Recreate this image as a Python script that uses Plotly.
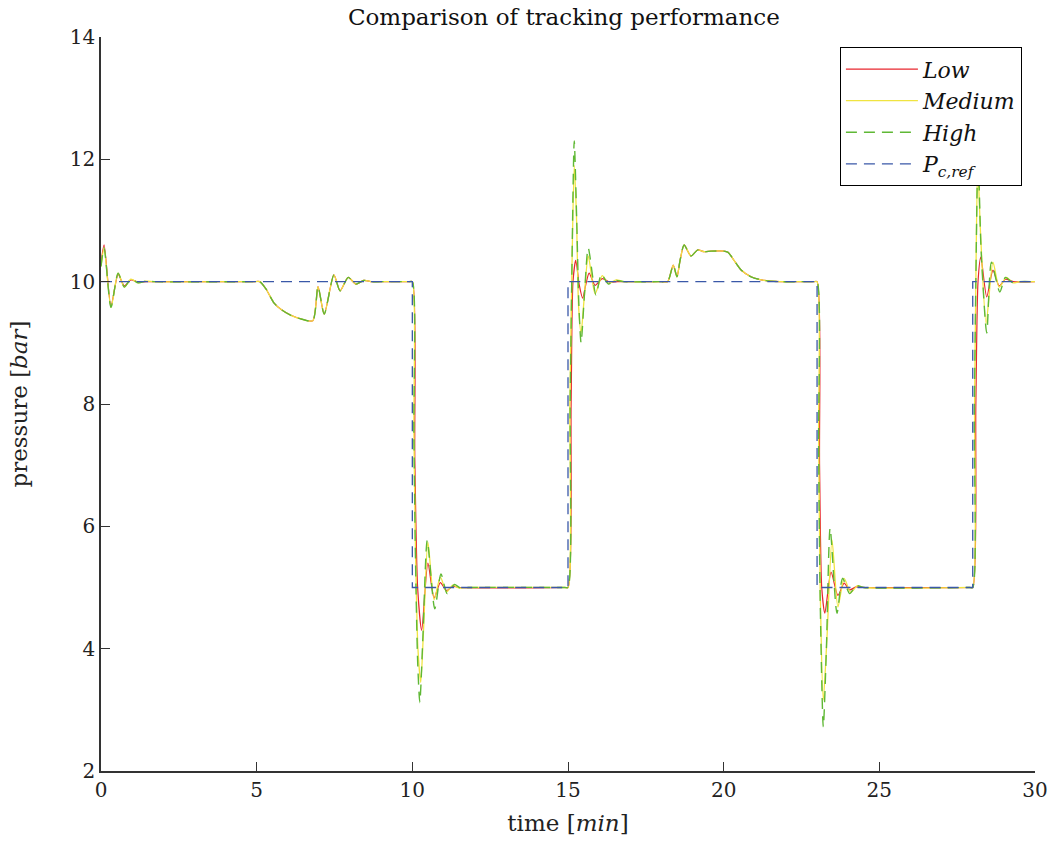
import plotly.graph_objects as go

# ---------------- data ----------------
# reference pressure set-point
ref_t = [0, 10, 10, 15, 15, 23, 23, 28, 28, 30]
ref_p = [10, 10, 5, 5, 10, 10, 5, 5, 10, 10]

# start-up transient
start_t = [0, 0.1, 0.32, 0.55, 0.75, 0.96, 1.2, 1.45, 1.7]
start_low = [10.3, 10.6, 9.6, 10.12, 9.93, 10.03, 9.99, 10.0, 10.0]
start_med = [10.25, 10.55, 9.58, 10.14, 9.91, 10.04, 9.98, 10.01, 10.0]
start_high = [10.25, 10.55, 9.58, 10.14, 9.91, 10.04, 9.98, 10.01, 10.0]

# first disturbance (identical for all controllers)
dist1_t = [4.9, 5.1, 5.3, 5.56, 5.8, 6.1, 6.43, 6.8, 6.97, 7.17, 7.48, 7.68, 7.94, 8.19, 8.44, 8.7, 9.0, 9.9]
dist1_p = [10.0, 10.0, 9.88, 9.65, 9.54, 9.45, 9.39, 9.36, 9.92, 9.47, 10.11, 9.85, 10.07, 9.96, 10.02, 10.0, 10.0, 10.0]

# step down at t = 10
drop1_low_t = [10.0, 10.08, 10.17, 10.3, 10.5, 10.7, 10.9, 11.1, 11.3, 11.5, 14.9]
drop1_low_p = [10.0, 7.1, 5.0, 4.3, 5.4, 4.83, 5.08, 4.95, 5.02, 5.0, 5.0]
drop1_med_t = [10.0, 10.05, 10.1, 10.18, 10.27, 10.36, 10.5, 10.7, 10.9, 11.1, 11.3, 11.5, 11.8, 14.9]
drop1_med_p = [10.0, 7.6, 5.66, 4.0, 3.45, 4.3, 5.74, 4.8, 5.17, 4.93, 5.04, 4.99, 5.0, 5.0]
drop1_high_t = [10.0, 10.05, 10.1, 10.17, 10.24, 10.34, 10.48, 10.72, 10.92, 11.12, 11.35, 11.55, 11.8, 14.9]
drop1_high_p = [10.0, 7.5, 5.5, 3.8, 3.12, 4.2, 5.77, 4.65, 5.22, 4.9, 5.05, 4.99, 5.0, 5.0]

# step up at t = 15
rise1_low_t = [15.0, 15.1, 15.16, 15.25, 15.36, 15.47, 15.57, 15.68, 15.87, 16.1, 16.35, 16.6, 17.9]
rise1_low_p = [5.0, 8.0, 10.0, 10.35, 9.95, 9.73, 9.95, 10.14, 9.94, 10.05, 9.99, 10.0, 10.0]
rise1_med_t = [15.0, 15.06, 15.12, 15.2, 15.27, 15.34, 15.42, 15.53, 15.65, 15.87, 16.1, 16.3, 16.55, 16.8, 17.9]
rise1_med_p = [5.0, 8.0, 10.0, 11.9, 11.1, 9.6, 9.16, 9.8, 10.42, 9.8, 10.1, 9.97, 10.03, 10.0, 10.0]
rise1_high_t = [15.0, 15.07, 15.12, 15.2, 15.28, 15.35, 15.42, 15.53, 15.65, 15.9, 16.07, 16.3, 16.5, 16.8, 17.9]
rise1_high_p = [5.0, 8.0, 10.0, 12.3, 11.0, 9.6, 9.0, 9.8, 10.55, 9.78, 10.12, 9.96, 10.02, 10.0, 10.0]

# second disturbance (identical for all controllers)
dist2_t = [18.0, 18.2, 18.38, 18.5, 18.6, 18.73, 18.95, 19.17, 19.37, 19.6, 20.0, 20.14, 20.33, 20.56, 20.88, 21.3, 21.8, 22.5, 22.9]
dist2_p = [10.0, 10.0, 10.27, 10.08, 10.35, 10.6, 10.42, 10.52, 10.49, 10.5, 10.5, 10.48, 10.35, 10.19, 10.08, 10.02, 10.0, 10.0, 10.0]

# step down at t = 23
drop2_low_t = [23.0, 23.08, 23.15, 23.25, 23.45, 23.67, 23.87, 24.05, 24.25, 24.5, 27.9]
drop2_low_p = [10.0, 7.0, 5.0, 4.58, 5.25, 4.87, 5.07, 4.96, 5.01, 5.0, 5.0]
drop2_med_t = [23.0, 23.05, 23.1, 23.2, 23.32, 23.48, 23.67, 23.87, 24.08, 24.3, 24.5, 27.9]
drop2_med_p = [10.0, 7.5, 5.0, 3.16, 4.2, 5.78, 4.68, 5.15, 4.92, 5.03, 5.0, 5.0]
drop2_high_t = [23.0, 23.05, 23.1, 23.2, 23.3, 23.42, 23.64, 23.82, 24.05, 24.25, 24.5, 27.9]
drop2_high_p = [10.0, 7.3, 4.8, 2.72, 4.0, 5.97, 4.58, 5.15, 4.9, 5.03, 5.0, 5.0]

# step up at t = 28
rise2_low_t = [28.0, 28.1, 28.17, 28.26, 28.45, 28.65, 28.85, 29.05, 29.3, 30.0]
rise2_low_p = [5.0, 8.0, 10.0, 10.4, 9.75, 10.19, 9.93, 10.04, 10.0, 10.0]
rise2_med_t = [28.0, 28.06, 28.1, 28.16, 28.25, 28.43, 28.65, 28.85, 29.08, 29.3, 29.5, 30.0]
rise2_med_p = [5.0, 8.0, 10.0, 11.9, 10.8, 9.32, 10.32, 9.91, 10.07, 9.98, 10.0, 10.0]
rise2_high_t = [28.0, 28.05, 28.1, 28.17, 28.27, 28.45, 28.6, 28.87, 29.05, 29.3, 29.5, 30.0]
rise2_high_p = [5.0, 7.8, 10.0, 12.1, 10.5, 9.16, 10.32, 9.83, 10.07, 9.98, 10.0, 10.0]

names = ["<i>Low</i>", "<i>Medium</i>", "<i>High</i>", "<i>P</i><sub><i>c,ref</i></sub>"]
colors = ["#e8262e", "#f0e440", "#5fb835", "#3a58a8"]

low_t = start_t + dist1_t + drop1_low_t + rise1_low_t + dist2_t + drop2_low_t + rise2_low_t
low_p = start_low + dist1_p + drop1_low_p + rise1_low_p + dist2_p + drop2_low_p + rise2_low_p
med_t = start_t + dist1_t + drop1_med_t + rise1_med_t + dist2_t + drop2_med_t + rise2_med_t
med_p = start_med + dist1_p + drop1_med_p + rise1_med_p + dist2_p + drop2_med_p + rise2_med_p
high_t = start_t + dist1_t + drop1_high_t + rise1_high_t + dist2_t + drop2_high_t + rise2_high_t
high_p = start_high + dist1_p + drop1_high_p + rise1_high_p + dist2_p + drop2_high_p + rise2_high_p

FONT = "DejaVu Serif"
DASH = "11px,7px"

fig = go.Figure()
fig.add_trace(go.Scatter(x=low_t, y=low_p, mode="lines", name=names[0],
                         line=dict(color=colors[0], width=1.2, shape="spline", smoothing=0.7)))
fig.add_trace(go.Scatter(x=med_t, y=med_p, mode="lines", name=names[1],
                         line=dict(color=colors[1], width=1.3, shape="spline", smoothing=0.7)))
fig.add_trace(go.Scatter(x=high_t, y=high_p, mode="lines", name=names[2],
                         line=dict(color=colors[2], width=1.4, shape="spline", smoothing=0.7, dash=DASH)))
fig.add_trace(go.Scatter(x=ref_t, y=ref_p, mode="lines", name=names[3],
                         line=dict(color=colors[3], width=1.3, dash=DASH)))

fig.update_layout(
    width=1054, height=845,
    paper_bgcolor="white", plot_bgcolor="white",
    margin=dict(l=101, r=19, t=37, b=74),
    font=dict(family=FONT, size=20, color="#222"),
    title=dict(text="Comparison of tracking performance", x=0.535, xanchor="center",
               y=0.99, yanchor="top", font=dict(family=FONT, size=23, color="#111")),
    showlegend=True,
    legend=dict(x=0.986, y=0.986, xanchor="right", yanchor="top",
                bgcolor="white", bordercolor="black", borderwidth=1,
                font=dict(family=FONT, size=22, color="#111"),
                itemwidth=72, tracegroupgap=0),
    xaxis=dict(range=[0, 30], tickvals=[0, 5, 10, 15, 20, 25, 30],
               ticks="inside", ticklen=9, tickwidth=1, tickcolor="#333",
               ticklabeloverflow="allow",
               showline=True, linecolor="#333", linewidth=1.5, mirror=False,
               showgrid=False, zeroline=False, automargin=False,
               title=dict(text="time [<i>min</i>]", standoff=14, font=dict(size=23))),
    yaxis=dict(range=[2, 14], tickvals=[2, 4, 6, 8, 10, 12, 14],
               ticks="inside", ticklen=9, tickwidth=1, tickcolor="#333",
               showline=True, linecolor="#333", linewidth=1.5, mirror=False,
               showgrid=False, zeroline=False,
               title=dict(text="pressure [<i>bar</i>]", standoff=36, font=dict(size=23))),
)

fig.write_html("out.html")
